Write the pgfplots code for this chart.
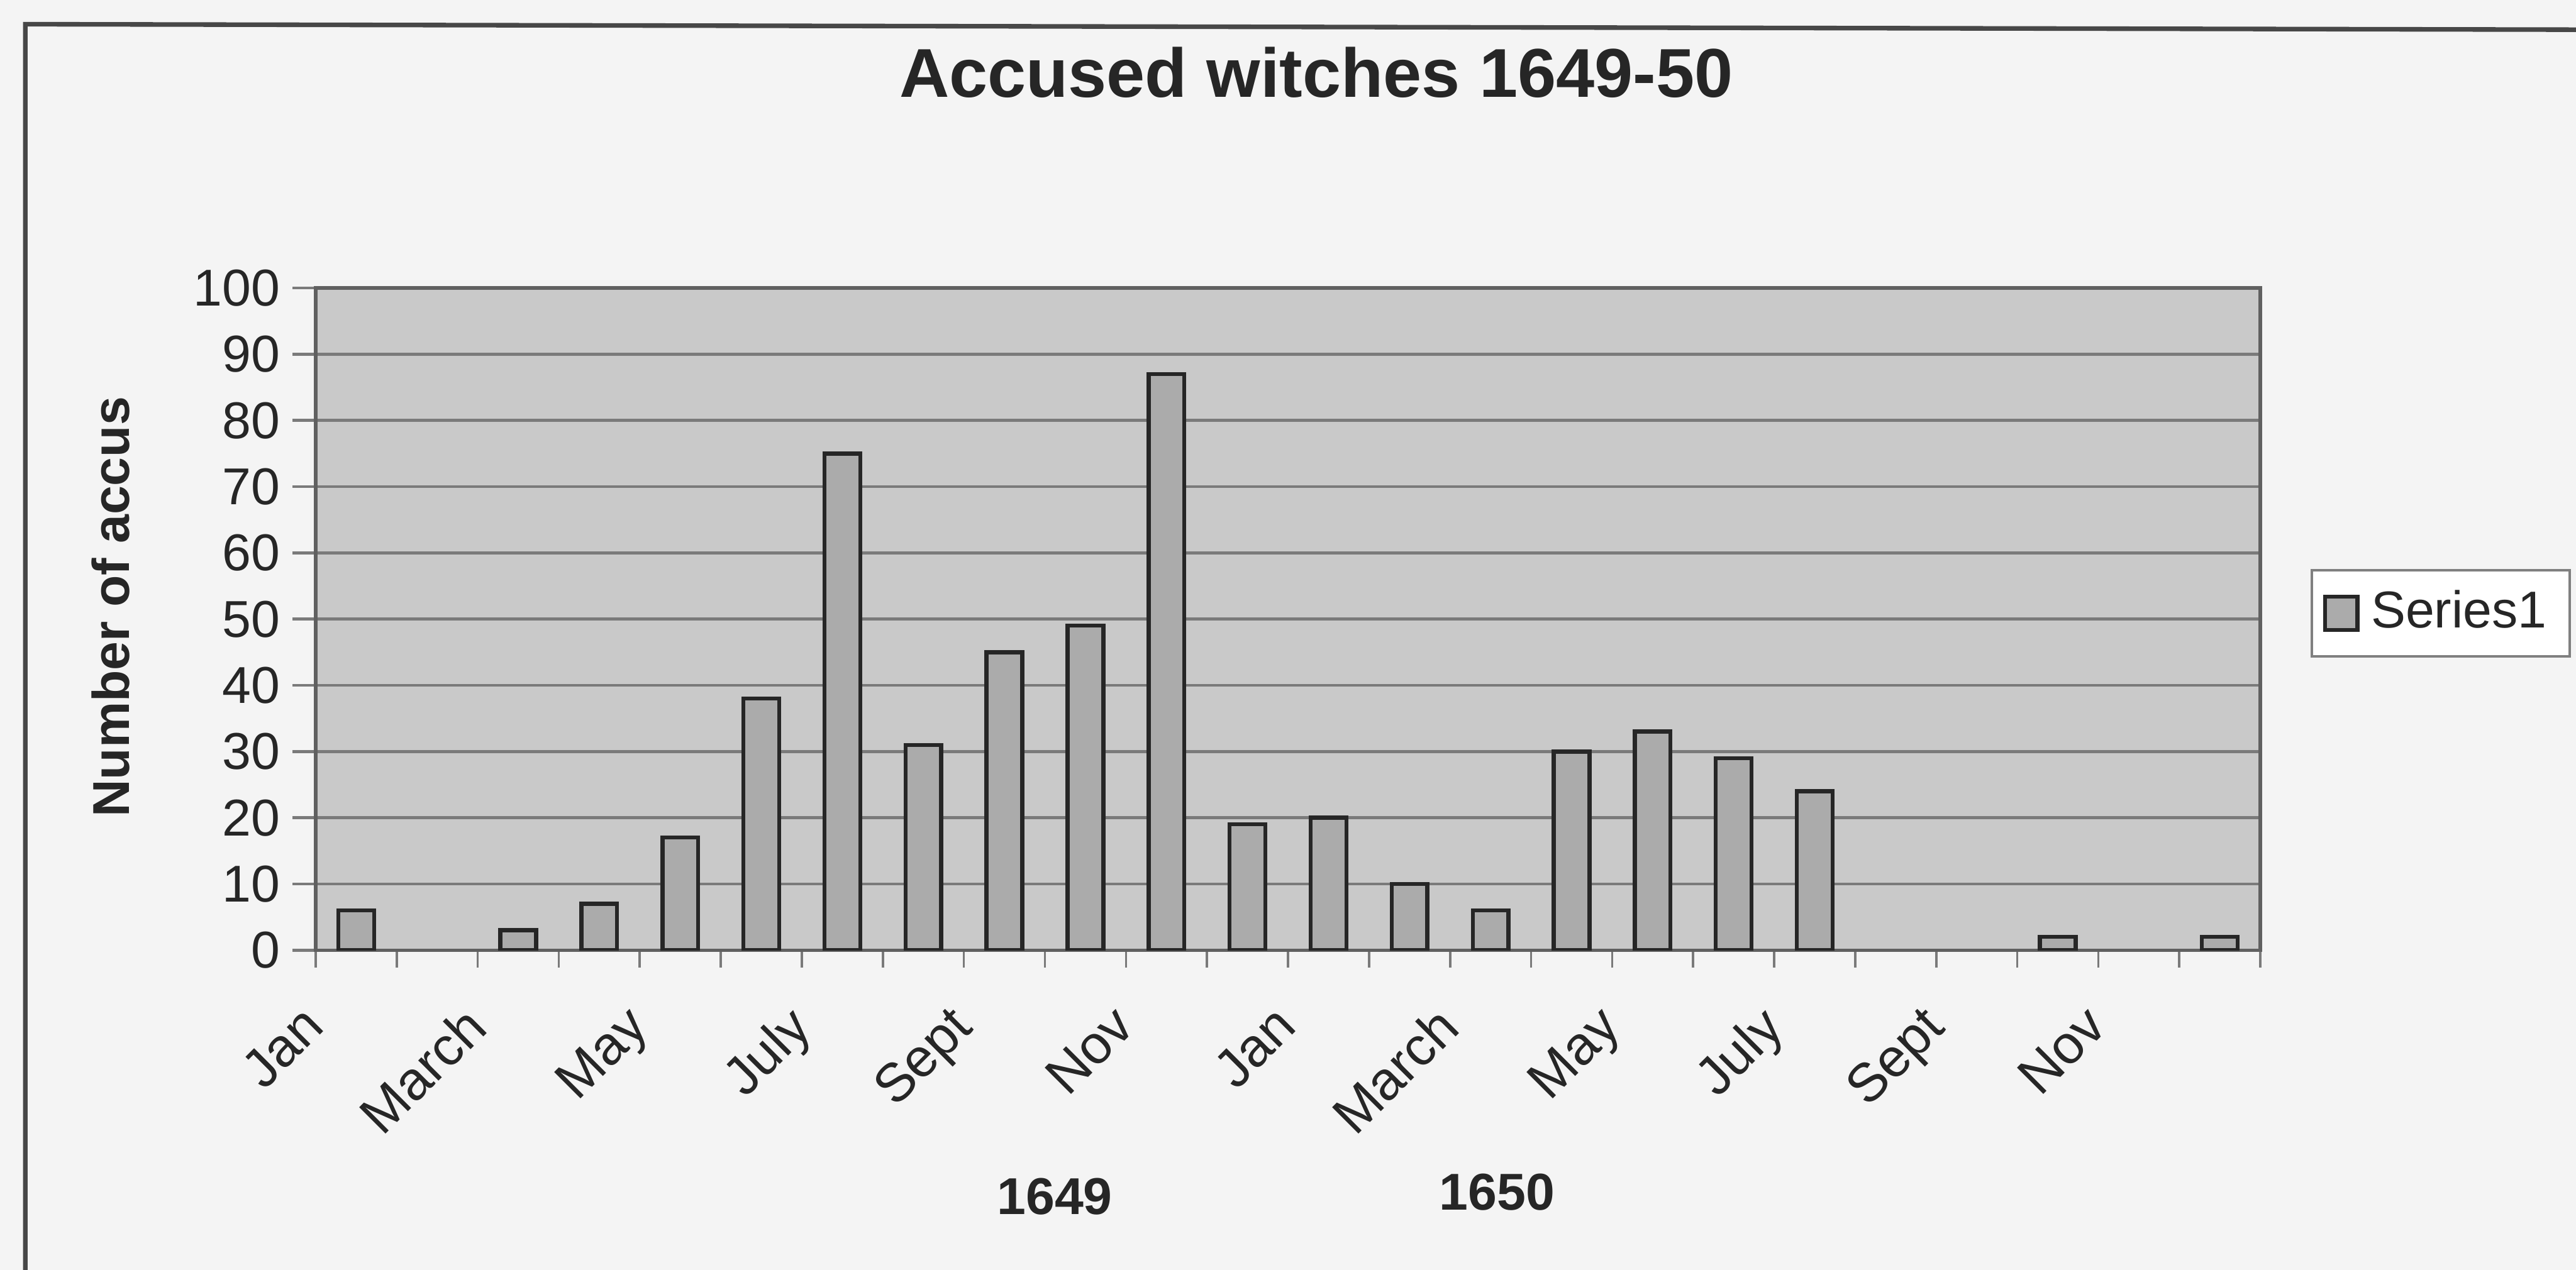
\documentclass[border=0pt]{standalone}
\usepackage{pgfplots}
\pgfplotsset{compat=1.18}
\usepackage{fontspec}
\setmainfont{Liberation Sans}
\definecolor{pagebg}{HTML}{F4F4F4}
\definecolor{plotbg}{HTML}{C9C9C9}
\definecolor{barfill}{HTML}{ABABAB}
\definecolor{gridc}{HTML}{7A7A7A}
\definecolor{txt}{HTML}{262626}
\begin{document}
\begin{tikzpicture}[x=1pt,y=1pt]
\path[use as bounding box, fill=pagebg] (0,0) rectangle (447.2,220.5);
\draw[line width=0.8pt, color=txt!85] (4.4,-5) -- (4.4,216.3) -- (470,215.3);
\node[font=\bfseries\fontsize{12}{14}\selectfont, text=txt, anchor=base] at (228.5,203.6) {Accused witches 1649-50};
\node[font=\bfseries\fontsize{9}{10}\selectfont, text=txt, rotate=90] at (19.2,115.1) {Number of accus};
\node[font=\bfseries\fontsize{9}{10}\selectfont, text=txt] at (183.1,12.7) {1649};
\node[font=\bfseries\fontsize{9}{10}\selectfont, text=txt] at (259.9,13.5) {1650};
\begin{axis}[
  at={(54.8pt,55.5pt)}, anchor=south west, scale only axis,
  width=337.6pt, height=115pt,
  xmin=0.5, xmax=24.5, ymin=0, ymax=100,
  ytick={0,10,...,100},
  xtick={1,3,...,23},
  xticklabels={Jan,March,May,July,Sept,Nov,Jan,March,May,July,Sept,Nov},
  minor xtick={0.5,1.5,...,24.5},
  xtick pos=bottom, ytick pos=left,
  tick align=outside,
  major tick length=4pt, minor tick length=3pt,
  major x tick style={draw=none},
  minor x tick style={gridc, line width=0.4pt},
  y tick style={gridc, line width=0.5pt},
  ymajorgrids, grid style={gridc, line width=0.5pt},
  axis background/.style={fill=plotbg},
  axis line style={gray!75!black, line width=0.6pt},
  tick label style={font=\fontsize{9}{10}\selectfont, text=txt},
  /pgf/number format/assume math mode=true,
  xticklabel style={rotate=45, anchor=north east, inner sep=0pt, xshift=-10.4pt, yshift=3.5pt, font=\fontsize{9.4}{10}\selectfont},
  yticklabel style={inner sep=0pt, xshift=-2pt},
  legend style={at={(axis description cs:1.0258,0.5087)}, anchor=west, draw=gray, fill=white,
    font=\fontsize{9}{10}\selectfont, text=txt, inner xsep=2pt, inner ysep=1.5pt},
  legend image code/.code={\draw[#1] (0pt,-2.9pt) rectangle (5.6pt,2.9pt);},
]
\addplot[ybar, bar width=6.2pt, fill=barfill, draw=black!85, line width=0.7pt]
  coordinates {(1,6)(3,3)(4,7)(5,17)(6,38)(7,75)(8,31)(9,45)(10,49)(11,87)(12,19)
               (13,20)(14,10)(15,6)(16,30)(17,33)(18,29)(19,24)(22,2)(24,2)};
\addlegendentry{Series1}
\end{axis}
\end{tikzpicture}
\end{document}
